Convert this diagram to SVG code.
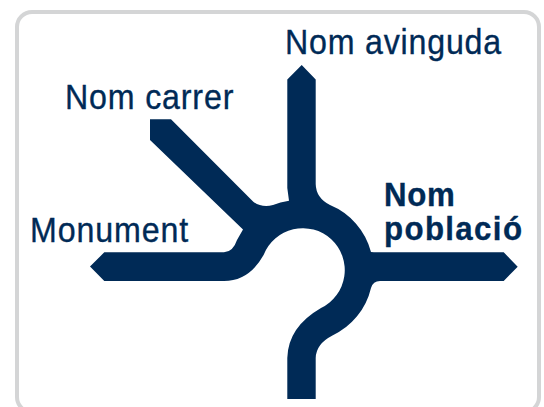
<svg xmlns="http://www.w3.org/2000/svg" width="544" height="407" viewBox="0 0 544 407">
<style>
.t{font-family:"Liberation Sans",Arial,sans-serif;font-size:35px;fill:#002a56;stroke:#002a56;stroke-width:.35px}
.b{font-weight:bold;font-size:34px}
</style>
<rect width="544" height="407" fill="#fff"/>
<rect id="frame" x="17" y="12" width="522" height="400" rx="15" fill="#fff" stroke="#d4d5d6" stroke-width="4"/>
<g id="roads">
<path fill="#002a56" d="M301.7 65L315.7 79.5V184Q316 198 330 205A70 70 0 0 1 371 252L374 252.3H503.7L517.7 266.7L503.7 281H380Q373 281 371 288A70 70 0 0 1 332 335.7Q316 344 315.7 358V399H287.3V358Q288 327 321 308A42 42 0 1 0 263.6 255Q249 281 224 281H104.3L90 266.5L104.3 252.3H224Q233 252 237 240L243 229.5L150 140V119.3H171L253.3 201.7Q262 208 273 205Q280 202 289 200.7L287.3 188V79.5Z"/>
</g>
<g id="labels">
<text class="t" transform="translate(285 54) scale(.92 1)" textLength="235">Nom avinguda</text>
<text class="t" transform="translate(65 109) scale(.92 1)" textLength="183">Nom carrer</text>
<text class="t" transform="translate(30 242) scale(.92 1)" textLength="172">Monument</text>
<text class="t b" transform="translate(384 206) scale(.92 1)" textLength="77">Nom</text>
<text class="t b" transform="translate(384 240) scale(.92 1)" textLength="150">població</text>
</g>
</svg>
